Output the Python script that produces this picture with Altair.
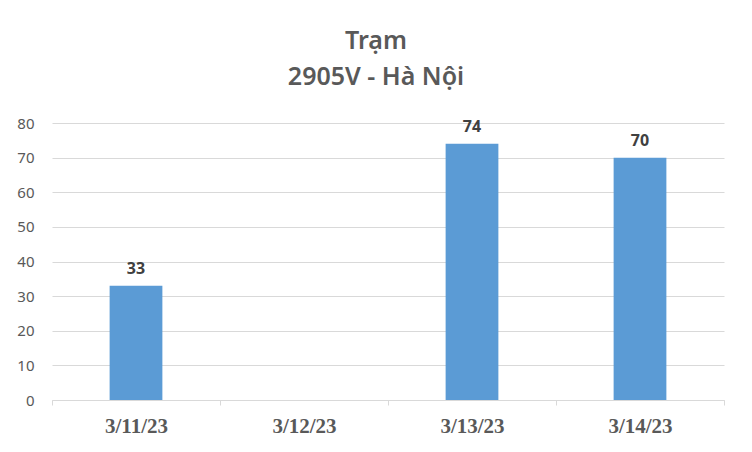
import altair as alt
import pandas as pd

dates = ["3/11/23", "3/12/23", "3/13/23", "3/14/23"]
values = [33, None, 74, 70]
y_ticks = [0, 10, 20, 30, 40, 50, 60, 70, 80]

df = pd.DataFrame({"date": dates, "value": values})

x = alt.X("date:N", sort=dates, title=None,
          scale=alt.Scale(paddingInner=0, paddingOuter=0),
          axis=alt.Axis(labelAngle=0, labelFont="Liberation Serif", labelFontWeight="bold",
                        labelFontSize=21, labelColor="#595959", domainColor="#d9d9d9",
                        tickColor="#d9d9d9", tickSize=5, tickBand="extent", labelPadding=10,
                        grid=False))
y = alt.Y("value:Q", title=None,
          scale=alt.Scale(domain=[0, 80], nice=False),
          axis=alt.Axis(values=y_ticks, labelFont="Noto Sans", labelFontSize=15,
                        labelColor="#595959", domain=False, ticks=False, labelPadding=18,
                        gridColor="#d9d9d9", gridWidth=1))

bars = alt.Chart(df).mark_bar(color="#5B9BD5", width=alt.RelativeBandSize(0.314)).encode(x=x, y=y)
labels = alt.Chart(df).transform_filter("datum.value != null").mark_text(
    font="Noto Sans", fontWeight="bold", fontSize=16, color="#404040",
    baseline="alphabetic", dy=-12).encode(x=x, y=y, text=alt.Text("value:Q"))

chart = alt.layer(bars, labels).properties(
    width=672, height=277,
    title=alt.TitleParams(["Trạm", "2905V - Hà Nội"], font="Noto Sans", fontSize=25,
                          fontWeight=600, color="#595959", lineHeight=36, anchor="middle",
                          dx=-12, offset=26),
    autosize=alt.AutoSizeParams(type="none"),
    padding={"left": 44, "top": 115, "right": 20, "bottom": 36},
).configure(background="white").configure_view(stroke="#ffffff", strokeWidth=0, strokeOpacity=0)

chart.save("out.html", embed_options={"renderer": "svg", "actions": False})
